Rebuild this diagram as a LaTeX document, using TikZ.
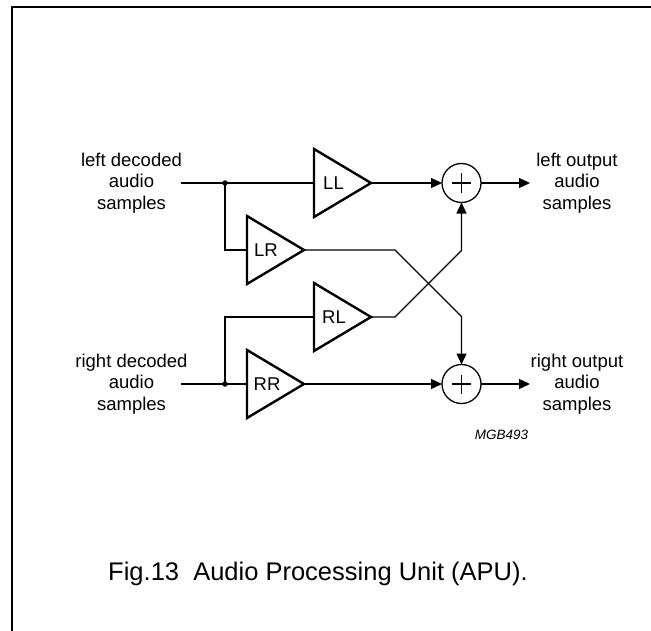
\documentclass[tikz,border=0pt]{standalone}
\usepackage{fontspec}
\setmainfont{Liberation Sans}
\usetikzlibrary{arrows.meta}
\begin{document}
\begin{tikzpicture}[x=1bp,y=-1bp,
  wire/.style={line width=1.3bp},
  arr/.style={line width=1.3bp,-{Triangle[length=11bp,width=10bp]}},
  amp/.style={line width=2.4bp,line join=miter},
  lbl/.style={font=\fontsize{18.5bp}{21.7bp}\selectfont,align=center,inner sep=0},
  amplbl/.style={font=\fontsize{18.5bp}{21.7bp}\selectfont,inner sep=0},
  sum/.style={circle,draw,line width=1.3bp,minimum size=39bp,inner sep=0,outer sep=0,
    path picture={\draw[line width=1.3bp]
      ([xshift=-9.5bp]path picture bounding box.center) -- ([xshift=9.5bp]path picture bounding box.center)
      ([yshift=-9.5bp]path picture bounding box.center) -- ([yshift=9.5bp]path picture bounding box.center);}},
  dot/.style={circle,fill,inner sep=0,minimum size=5.5bp}]
\useasboundingbox (0,0) rectangle (651,631);
% frame
\draw[line width=2bp] (11.5,632) -- (11.5,7) -- (652,7);
% coordinates
\coordinate (inL) at (181,183);
\coordinate (inR) at (181,384);
\coordinate (LLin) at (314,183); \coordinate (LLout) at (371,183);
\coordinate (LRin) at (247,250); \coordinate (LRout) at (304,250);
\coordinate (RLin) at (314,317); \coordinate (RLout) at (371,317);
\coordinate (RRin) at (247,384); \coordinate (RRout) at (304,384);
\coordinate (kLR) at (395,250); \coordinate (kLR2) at (461.5,316.5);
\coordinate (kRL) at (395,317); \coordinate (kRL2) at (461.5,250.5);
\coordinate (outL) at (530,183);
\coordinate (outR) at (530,384);
% amplifiers
\draw[amp] (314,149) -- (LLout) -- (314,217) -- cycle;
\draw[amp] (247,216) -- (LRout) -- (247,284) -- cycle;
\draw[amp] (314,283) -- (RLout) -- (314,351) -- cycle;
\draw[amp] (247,350) -- (RRout) -- (247,418) -- cycle;
\node[amplbl] (LL) at (333.5,183) {LL};
\node[amplbl] (LR) at (266,250) {LR};
\node[amplbl] (RL) at (334,317) {RL};
\node[amplbl] (RR) at (267,384) {RR};
% summing nodes
\node[sum] (S1) at (461.5,183) {};
\node[sum] (S2) at (461.5,384) {};
% junctions
\node[dot] (jL) at (225,183) {};
\node[dot] (jR) at (225,384) {};
% wires
\draw[wire] (inL) -- (LLin);
\draw[wire] (jL.center) |- (LRin);
\draw[wire] (inR) -- (RRin);
\draw[wire] (jR.center) |- (RLin);
\draw[arr] (LLout) -- (S1);
\draw[arr] (RRout) -- (S2);
\draw[arr] (LRout) -- (kLR) -- (kLR2) -- (S2);
\draw[arr] (RLout) -- (kRL) -- (kRL2) -- (S1);
\draw[arr] (S1) -- (outL);
\draw[arr] (S2) -- (outR);
% labels
\node[lbl] (tinL) at (131.5,183) {left decoded\\audio\\samples};
\node[lbl] (tinR) at (131.5,384) {right decoded\\audio\\samples};
\node[lbl] (toutL) at (577,183) {left output\\audio\\samples};
\node[lbl] (toutR) at (577,384) {right output\\audio\\samples};
\node[inner sep=0,font=\fontsize{13.5bp}{16bp}\selectfont\itshape] (code) at (501.5,435) {MGB493};
\node[inner sep=0,font=\fontsize{25.5bp}{30bp}\selectfont] (cap) at (318,574) {Fig.13~~Audio Processing Unit (APU).};
\end{tikzpicture}
\end{document}
